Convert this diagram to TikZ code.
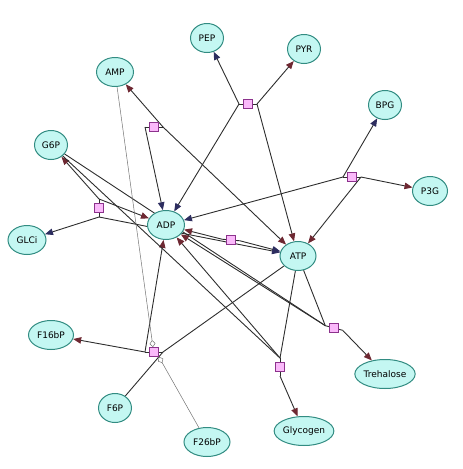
\documentclass[tikz,border=0pt]{standalone}
\usepackage{fontspec}
\setmainfont{DejaVu Sans}
\usetikzlibrary{arrows.meta,shapes.geometric,backgrounds}
\definecolor{metfill}{RGB}{196,247,242}
\definecolor{metdraw}{RGB}{50,140,130}
\definecolor{rxnfill}{RGB}{250,185,250}
\definecolor{rxndraw}{RGB}{140,50,140}
\definecolor{subtip}{RGB}{45,45,95}
\definecolor{prodtip}{RGB}{110,40,50}
\definecolor{edgegray}{RGB}{45,45,45}

\begin{document}
\begin{tikzpicture}[x=1pt,y=-1pt,
  met/.style={ellipse,draw=metdraw,fill=metfill,line width=1pt,inner sep=0pt,minimum width=33pt,minimum height=29pt,font=\fontsize{9}{10}\selectfont},
  rxn/.style={rectangle,draw=rxndraw,fill=rxnfill,line width=0.8pt,minimum size=9pt,inner sep=0pt},
  link/.style={draw=edgegray,line width=0.9pt},
  sub/.style={link,-{Triangle[length=8pt,width=6.5pt,color=subtip]}},
  prod/.style={link,-{Triangle[length=8pt,width=6.5pt,color=prodtip]}},
  modif/.style={draw=black!55,line width=0.5pt,-{Diamond[open,length=7pt,width=6pt,fill=white]}}]
\useasboundingbox (0,0) rectangle (463,469);
% metabolites
\node[met] (pep) at (207,38) {PEP};\node[met] (pyr) at (304,49) {PYR};\node[met,minimum width=37pt] (amp) at (115,72) {AMP};
\node[met] (bpg) at (385,105) {BPG};\node[met] (g6p) at (51,145) {G6P};\node[met,minimum width=35pt] (p3g) at (430,191) {P3G};
\node[met,minimum width=38pt] (glci) at (27,240) {GLCi};\node[met,minimum width=37pt] (adp) at (166,225) {ADP};\node[met,minimum width=36pt] (atp) at (298,256) {ATP};
\node[met,minimum width=45pt] (f16bp) at (51,335) {F16bP};\node[met] (f6p) at (115,408) {F6P};\node[met,minimum width=46pt] (f26bp) at (207,442) {F26bP};
\node[met] (glycogen) at (304,431) {Glycogen};\node[met] (trehalose) at (385,374) {Trehalose};
% reactions
\foreach \r/\x/\y/\a in {pyk/248/104/0,amp/154/127/0,pgk/352/177/0,hk/99/208/90,adk/231/240/5,pfk/154/352/0,gly/280/367/90,tre/334/328/15}{
\pgfmathsetmacro{\dx}{9*cos(\a)}\pgfmathsetmacro{\dy}{9*sin(\a)}
\node[rxn] (r\r) at (\x,\y) {};\coordinate (\r-a) at (\x-\dx,\y-\dy);\coordinate (\r-b) at (\x+\dx,\y+\dy);}
\begin{scope}[on background layer]
\foreach \r in {pyk,amp,pgk,hk,adk,pfk,gly,tre} \draw[link] (\r-a)--(\r-b);
\draw[sub] (pyk-a)--(pep);\draw[sub] (pyk-a)--(adp);\draw[prod] (pyk-b)--(pyr);\draw[prod] (pyk-b)--(atp);
\draw[sub] (amp-a)--(adp);\draw[prod] (amp-b)--(amp);\draw[prod] (amp-b)--(atp);
\draw[sub] (pgk-a)--(adp);\draw[sub] (pgk-a)--(bpg);\draw[prod] (pgk-b)--(p3g);\draw[prod] (pgk-b)--(atp);
\draw[prod] (hk-a)--(g6p);\draw[prod] (hk-a)--(adp);\draw[sub] (hk-b)--(glci);\draw[sub] (hk-b)--(atp);
\draw[prod] (adk-a)--(adp);\draw[sub] (adk-b)--(atp);
\draw[prod] (pfk-a)--(f16bp);\draw[prod] (pfk-a)--(adp);\draw[link] (pfk-b)--(f6p);\draw[link] (pfk-b)--(atp);
\draw[link] (gly-a)--(g6p);\draw[link] (gly-a)--(atp);\draw[prod] (gly-a)--(adp);\draw[prod] (gly-b)--(glycogen);
\draw[link] (tre-a)--(g6p);\draw[link] (tre-a)--(atp);\draw[prod] (tre-a)--(adp);\draw[prod] (tre-b)--(trehalose);
\draw[modif] (amp)--([xshift=-1pt]rpfk.north);\draw[modif] (f26bp)--(rpfk.south east);
\end{scope}
\end{tikzpicture}
\end{document}
